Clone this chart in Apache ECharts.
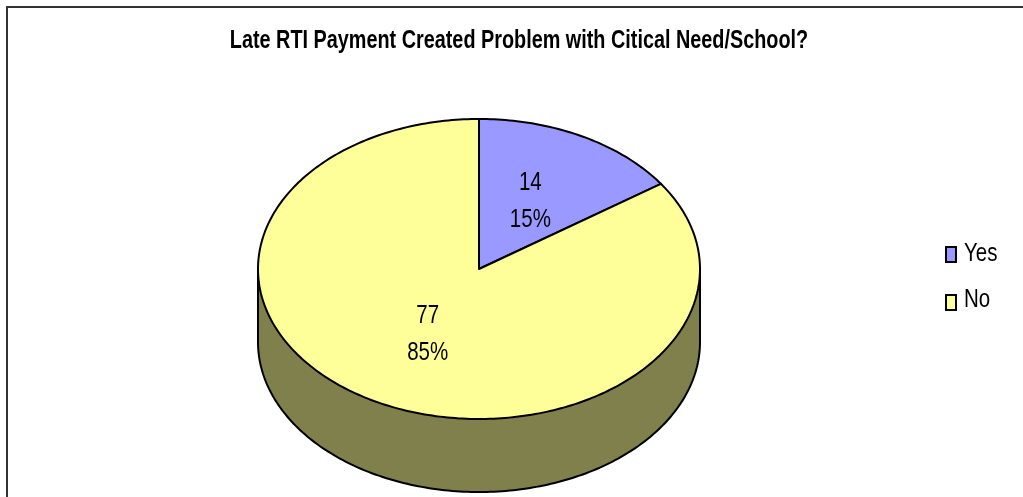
<!DOCTYPE html>
<html><head><meta charset="utf-8">
<style>html,body{margin:0;padding:0;background:#fff}#c{width:1023px;height:497px}</style>
<script src="https://cdn.jsdelivr.net/npm/echarts@6/dist/echarts.min.js"></script>
</head><body><div id="c"></div>
<script>
const titleText = 'Late RTI Payment Created Problem with Citical Need/School?';
const categories = ['Yes', 'No'];
const counts = [14, 77];
const colors = ['#9999FF', '#FFFF99'];
const wallColor = '#80804D';
const font = '"Liberation Sans",Arial,sans-serif';

const cx = 479, cy = 269, rx = 221, ry = 150, depth = 73;
const total = counts.reduce((a, b) => a + b, 0);
const ptOn = (a, dy) => [cx + rx * Math.sin(a), cy + (dy || 0) - ry * Math.cos(a)];

function sliceAngles(i) {
  const before = counts.slice(0, i).reduce((a, b) => a + b, 0);
  return [before / total * 2 * Math.PI, (before + counts[i]) / total * 2 * Math.PI];
}
function arcPts(a0, a1, dy) {
  const n = Math.max(2, Math.ceil((a1 - a0) / (Math.PI / 180)));
  const pts = [];
  for (let k = 0; k <= n; k++) pts.push(ptOn(a0 + (a1 - a0) * k / n, dy));
  return pts;
}
const edge = { stroke: '#000', lineWidth: 2, lineJoin: 'round' };

function renderWall() {
  const front = arcPts(Math.PI / 2, 3 * Math.PI / 2, depth);
  const back = arcPts(3 * Math.PI / 2, Math.PI / 2, 0);
  return { type: 'polygon', shape: { points: front.concat(back) },
    style: Object.assign({ fill: wallColor }, edge) };
}
function renderSlice(i) {
  return function () {
    const [a0, a1] = sliceAngles(i);
    const mid = (a0 + a1) / 2;
    const pts = [[cx, cy]].concat(arcPts(a0, a1, 0));
    const lx = cx + 0.5 * rx * Math.sin(mid), ly = cy - 0.5 * ry * Math.cos(mid) - 0.5;
    const pct = Math.round(counts[i] / total * 100) + '%';
    return { type: 'group', children: [
      { type: 'polygon', shape: { points: pts }, style: Object.assign({ fill: colors[i] }, edge) },
      { type: 'text', z2: 10, x: lx, y: ly, scaleX: 0.82, style: { x: 0, y: 0, text: counts[i] + '\n' + pct, fill: '#000',
          font: '25px ' + font, lineHeight: 37, align: 'center', verticalAlign: 'middle' } }
    ] };
  };
}
const legendLabel = (name, i) => ({ type: 'text', silent: true, x: 964, y: 254 + i * 46, scaleX: 0.82,
  style: { x: 0, y: 0, text: name, fill: '#000', font: '25px ' + font, align: 'left', verticalAlign: 'middle' } });

const chart = echarts.init(document.getElementById('c'), null, { renderer: 'canvas' });
chart.setOption({
  animation: false,
  backgroundColor: '#fff',
  legend: { orient: 'vertical', left: 945, top: 246, padding: 0, itemWidth: 10, itemHeight: 15, itemGap: 31, data: categories,
    icon: 'rect', formatter: () => '', textStyle: { fontSize: 1 },
    itemStyle: { borderColor: '#000', borderWidth: 2 }, selectedMode: false },
  graphic: [
    { type: 'rect', silent: true, shape: { x: 7, y: 7, width: 1040, height: 600 },
      style: { fill: 'none', stroke: '#333', lineWidth: 2 } },
    { type: 'text', silent: true, x: 519, y: 41, scaleX: 0.793,
      style: { x: 0, y: 0, text: titleText, fill: '#000', font: 'bold 25px ' + font, align: 'center', verticalAlign: 'middle' } }
  ].concat(categories.map(legendLabel)),
  series: [
    { type: 'custom', name: 'wall', coordinateSystem: 'none', renderItem: renderWall, data: [[counts[1]]], silent: true, z: 2 },
    { type: 'custom', name: categories[0], coordinateSystem: 'none', renderItem: renderSlice(0), data: [[counts[0]]],
      itemStyle: { color: colors[0] }, silent: true, z: 3 },
    { type: 'custom', name: categories[1], coordinateSystem: 'none', renderItem: renderSlice(1), data: [[counts[1]]],
      itemStyle: { color: colors[1] }, silent: true, z: 3 }
  ]
});
</script></body></html>
